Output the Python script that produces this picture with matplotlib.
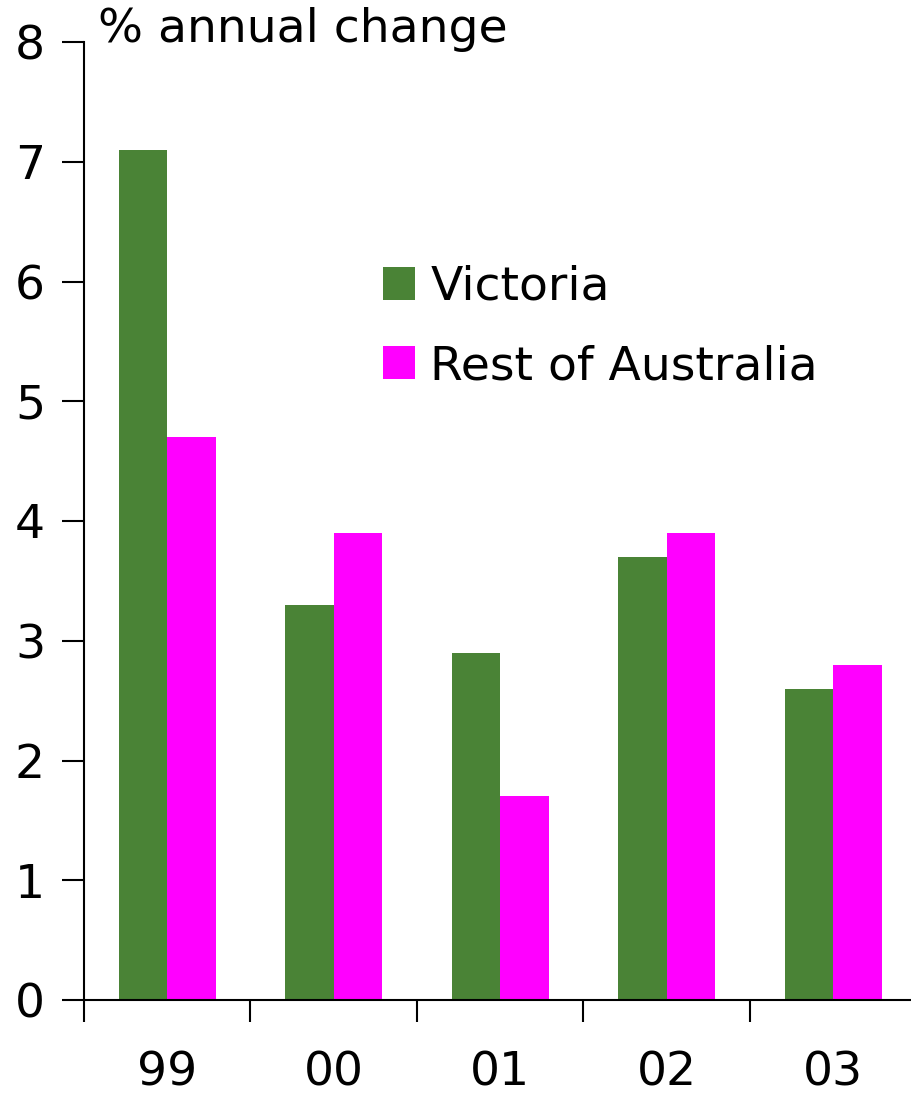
"""
Victoria vs rest of Australia, annual growth bar chart
"""
import numpy as np
from matplotlib import pyplot as plt

FONT_SIZE = 34
GREEN = "#4a8336"
MAGENTA = "#ff00ff"

years = ["99", "00", "01", "02", "03"]
victoria = [7.1, 3.3, 2.9, 3.7, 2.6]
rest_of_australia = [4.7, 3.9, 1.7, 3.9, 2.8]

plt.rcParams["font.family"] = ["DejaVu Sans"]

fig = plt.figure(figsize=(9.12, 10.94), dpi=100)
ax = fig.add_axes([84 / 912, 94 / 1094, 832.5 / 912, 958 / 1094])

x = np.arange(len(years)) + 0.5
bar_w = 0.29
ax.bar(x - bar_w / 2, victoria, width=bar_w, color=GREEN, label="Victoria")
ax.bar(x + bar_w / 2, rest_of_australia, width=bar_w, color=MAGENTA, label="Rest of Australia")

ax.set_xlim(0, len(years))
ax.set_ylim(0, 8)

# x ticks sit between categories, labels centred under each group
ax.set_xticks(np.arange(len(years) + 1))
ax.set_xticklabels([])
ax.set_xticks(x, minor=True)
ax.set_xticklabels(years, minor=True, fontsize=FONT_SIZE)
ax.tick_params(axis="x", which="major", direction="out", length=16, width=1.5)
ax.tick_params(axis="x", which="minor", length=0, pad=36)

ax.set_yticks(range(0, 9))
ax.tick_params(axis="y", direction="out", length=16, width=1.5, labelsize=FONT_SIZE, pad=12)

for side in ["top", "right"]:
    ax.spines[side].set_visible(False)
for side in ["left", "bottom"]:
    ax.spines[side].set_linewidth(1.5)

fig.text(98 / 912, 1 - 30 / 1094, "% annual change", fontsize=FONT_SIZE, va="center", ha="left")

ax.legend(loc="upper left", bbox_to_anchor=(383 / 912, 1 - 265 / 1094), bbox_transform=fig.transFigure,
          frameon=False, fontsize=FONT_SIZE, handlelength=0.68, handleheight=0.68,
          handletextpad=0.32, labelspacing=0.72, borderaxespad=0, borderpad=0)

fig.savefig("out.png", dpi=100)
